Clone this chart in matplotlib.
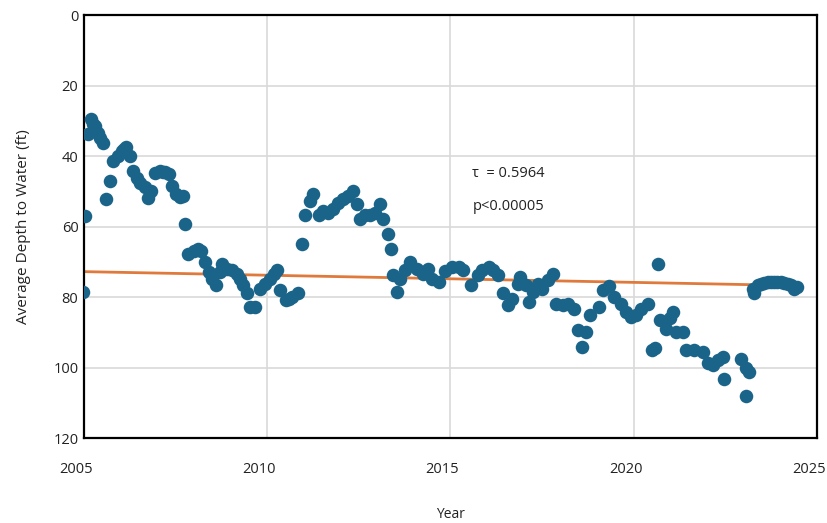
import matplotlib
matplotlib.use("Agg")
import matplotlib.pyplot as plt
import matplotlib.transforms as mtransforms

# Observed average depth to water (ft) by decimal year
years = [2004.97, 2005.03, 2005.10, 2005.20, 2005.25, 2005.30, 2005.38, 2005.45, 2005.52, 2005.60,
         2005.70, 2005.80, 2005.93, 2006.04, 2006.10, 2006.15, 2006.26, 2006.34, 2006.45, 2006.53,
         2006.67, 2006.75, 2006.83, 2006.94, 2007.08, 2007.15, 2007.21, 2007.32, 2007.40, 2007.51,
         2007.62, 2007.70, 2007.76, 2007.84, 2008.00, 2008.10, 2008.20, 2008.30, 2008.40, 2008.50,
         2008.60, 2008.70, 2008.77, 2008.90, 2009.04, 2009.18, 2009.26, 2009.34, 2009.45, 2009.54,
         2009.67, 2009.80, 2009.95, 2010.08, 2010.18, 2010.27, 2010.35, 2010.50, 2010.60, 2010.68,
         2010.85, 2010.95, 2011.04, 2011.17, 2011.26, 2011.40, 2011.53, 2011.67, 2011.80, 2011.94,
         2012.08, 2012.20, 2012.35, 2012.46, 2012.54, 2012.68, 2012.80, 2012.95, 2013.09, 2013.17,
         2013.30, 2013.39, 2013.44, 2013.55, 2013.63, 2013.77, 2013.90, 2014.10, 2014.26, 2014.38,
         2014.50, 2014.70, 2014.86, 2015.05, 2015.22, 2015.35, 2015.55, 2015.74, 2015.87, 2016.04,
         2016.17, 2016.31, 2016.42, 2016.56, 2016.69, 2016.83, 2016.91, 2017.05, 2017.13, 2017.24,
         2017.38, 2017.51, 2017.65, 2017.79, 2017.87, 2018.06, 2018.22, 2018.36, 2018.47, 2018.60,
         2018.69, 2018.82, 2019.04, 2019.15, 2019.32, 2019.46, 2019.64, 2019.78, 2019.92, 2020.05,
         2020.20, 2020.38, 2020.50, 2020.58, 2020.65, 2020.73, 2020.87, 2021.00, 2021.07, 2021.15,
         2021.34, 2021.42, 2021.64, 2021.88, 2022.02, 2022.16, 2022.30, 2022.43, 2022.46, 2022.92,
         2023.06, 2023.06, 2023.14, 2023.25, 2023.28, 2023.40, 2023.47, 2023.55, 2023.66, 2023.75,
         2023.83, 2023.92, 2024.02, 2024.10, 2024.20, 2024.28, 2024.37, 2024.45]
depth = [78.5, 57.0, 33.7, 29.5, 31.0, 31.5, 33.4, 35.0, 36.3, 52.3,
         47.1, 41.4, 40.0, 38.6, 38.0, 37.4, 40.0, 44.3, 46.3, 47.7,
         48.9, 52.0, 50.0, 44.9, 44.3, 44.5, 44.6, 45.1, 48.6, 50.9,
         51.7, 51.4, 59.4, 67.7, 67.0, 66.3, 67.0, 70.0, 72.9, 74.9,
         76.6, 73.0, 70.6, 72.0, 72.3, 73.4, 74.9, 76.6, 79.0, 82.9,
         82.9, 77.7, 76.3, 74.9, 73.5, 72.3, 78.0, 80.9, 80.5, 80.0,
         79.0, 64.9, 56.6, 52.9, 50.9, 56.6, 55.7, 56.3, 54.9, 53.4,
         52.3, 51.4, 50.0, 53.7, 58.0, 56.6, 56.6, 56.3, 53.7, 58.0,
         62.0, 66.3, 73.7, 78.6, 74.9, 72.3, 70.0, 72.0, 73.4, 72.0,
         75.0, 75.7, 72.5, 71.4, 71.4, 72.3, 76.6, 73.7, 72.3, 71.4,
         72.3, 73.7, 79.0, 82.3, 80.6, 76.3, 74.3, 76.6, 81.4, 78.6,
         76.3, 77.7, 75.1, 73.4, 82.0, 82.3, 82.0, 83.4, 89.4, 94.3,
         90.0, 85.0, 82.9, 78.0, 77.0, 80.0, 82.0, 84.3, 85.7, 85.0,
         83.4, 82.0, 94.9, 94.5, 70.6, 86.6, 89.0, 86.0, 84.3, 90.0,
         90.0, 94.9, 95.1, 95.7, 98.6, 99.4, 98.0, 97.1, 103.4, 97.7,
         100.0, 108.0, 101.4, 77.7, 79.0, 76.5, 76.3, 76.0, 75.7, 75.8,
         75.7, 75.6, 75.7, 76.0, 76.3, 76.5, 77.7, 77.3]

# Trend line endpoints
trend_years = [2005.0, 2023.2]
trend_depth = [72.8, 76.5]

x_ticks = [2005, 2010, 2015, 2020, 2025]
y_ticks = [0, 20, 40, 60, 80, 100, 120]
stats_text = ["\u03c4  = 0.5964", "p<0.00005"]

plt.rcParams['font.family'] = ['Open Sans', 'DejaVu Sans']

fig = plt.figure(figsize=(8.28, 5.23), dpi=100)
ax = fig.add_axes([0.1014, 0.1625, 0.8853, 0.8088])

ax.scatter(years, depth, s=95, color='#1b6489', zorder=3, linewidths=0)
ax.plot(trend_years, trend_depth, color='#e07a3c', lw=2, zorder=2)

ax.set_xlim(2005, 2025)
ax.set_ylim(120, 0)
ax.set_xticks(x_ticks)
ax.set_yticks(y_ticks)
ax.tick_params(axis='both', length=0, labelsize=10.5, colors='#222222')
ax.tick_params(axis='x', pad=17)
ax.tick_params(axis='y', pad=4)
ax.grid(True, color='#d9d9d9', lw=1.2, zorder=0)
ax.set_axisbelow(True)
for sp in ax.spines.values():
    sp.set_color('black')
    sp.set_linewidth(1.6)

shift = mtransforms.ScaledTranslation(-8 / 100, 0, fig.dpi_scale_trans)
for lbl in ax.get_xticklabels():
    lbl.set_transform(lbl.get_transform() + shift)

ax.set_xlabel('Year', fontsize=10, labelpad=22, color='#222222')
ax.set_ylabel('Average Depth to Water (ft)', fontsize=11, labelpad=16, color='#222222')

ax.text(2015.6, 45.1, stats_text[0], fontsize=10.5, va='center', ha='left', color='#222222')
ax.text(2015.6, 54.3, stats_text[1], fontsize=10.5, va='center', ha='left', color='#222222')

fig.savefig('out.png', dpi=100)
